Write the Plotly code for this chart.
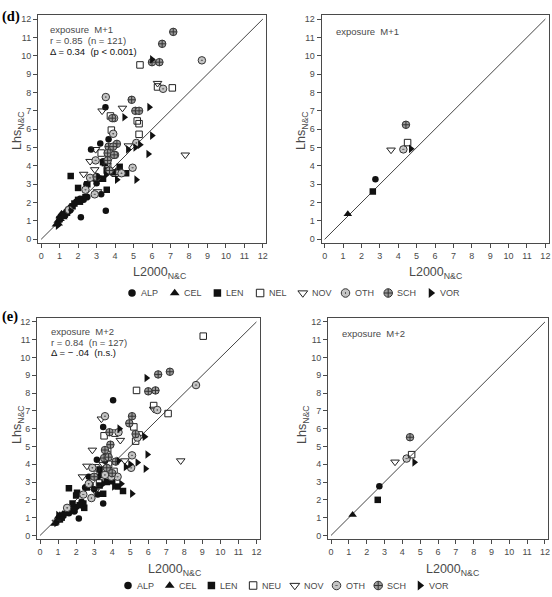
import plotly.graph_objects as go

W, H = 552, 597

# ---------------- data ----------------
cats_d = ["ALP", "CEL", "LEN", "NEL", "NOV", "OTH", "SCH", "VOR"]
cats_e = ["ALP", "CEL", "LEN", "NEU", "NOV", "OTH", "SCH", "VOR"]
ticks = list(range(0, 13))
diag = [0, 12]

# panel (d) left: exposure M+1, [L2000, Lhs]
d_ALP = [[3.48, 7.2], [3.65, 5.45], [3.2, 5.22], [2.7, 4.9], [3.35, 4.25], [2.45, 3.0], [2.9, 3.3],
         [3.25, 2.45], [3.5, 1.55], [2.15, 1.2], [2.1, 2.2], [2.3, 2.15], [1.9, 2.05], [1.6, 1.75],
         [2.5, 2.3], [1.3, 1.3], [3.0, 3.05]]
d_CEL = [[0.8, 0.8], [0.9, 1.0], [1.0, 1.25], [1.1, 1.4], [1.2, 1.2], [0.95, 0.85], [1.3, 1.5],
         [1.05, 1.1], [1.5, 1.55]]
d_LEN = [[1.6, 3.45], [2.0, 2.8], [2.5, 3.0], [3.35, 4.2], [3.45, 4.15], [3.55, 3.75], [3.7, 3.7],
         [4.25, 3.95], [4.6, 3.6], [3.35, 3.3], [3.55, 2.7], [2.0, 2.15], [2.2, 2.2], [2.4, 2.3],
         [1.7, 1.8], [1.5, 1.6], [1.2, 1.3], [1.0, 1.1], [1.8, 1.95], [2.1, 2.05], [1.4, 1.45],
         [3.9, 3.65], [3.1, 3.3]]
d_NEL = [[5.35, 9.5], [7.1, 8.25], [3.75, 6.72], [5.2, 6.45], [5.3, 6.3], [3.8, 5.95], [5.3, 5.72],
         [3.25, 4.7], [3.6, 4.0], [4.2, 3.7], [6.3, 8.3], [4.0, 3.6]]
d_NOV = [[3.3, 7.0], [4.4, 7.15], [6.3, 8.5], [4.72, 5.1], [2.95, 4.9], [2.65, 4.25], [2.3, 3.55],
         [2.9, 3.8], [3.05, 2.6], [7.8, 4.6], [3.55, 4.05], [3.7, 4.4]]
d_OTH = [[8.7, 9.75], [6.6, 8.2], [3.5, 7.75], [3.9, 5.75], [5.15, 5.25], [4.95, 3.9], [4.35, 3.6],
         [2.95, 4.3], [2.65, 3.35], [2.9, 2.45], [2.4, 2.7], [3.7, 4.7], [1.5, 1.6], [4.0, 4.6],
         [3.95, 6.6]]
d_SCH = [[7.15, 11.3], [6.55, 10.65], [6.4, 9.65], [6.0, 9.65], [4.9, 7.6], [5.1, 7.0], [5.3, 7.0],
         [3.85, 6.6], [4.1, 5.2], [3.65, 5.05], [3.6, 4.7], [3.9, 5.05], [3.6, 4.3], [3.95, 4.6],
         [3.0, 3.4], [3.7, 3.75]]
d_VOR = [[6.0, 9.8], [5.85, 7.2], [4.5, 6.65], [6.0, 5.65], [5.35, 5.15], [4.7, 4.9], [5.1, 5.0],
         [5.8, 4.65], [4.1, 3.25], [5.15, 3.25], [3.1, 3.4], [1.6, 1.55], [1.2, 1.35], [0.9, 0.75],
         [3.5, 3.5]]

# panel (d) right: exposure M+1, means
dR_cat = ["CEL", "LEN", "ALP", "NOV", "OTH", "NEL", "SCH", "VOR"]
dR_x = [1.26, 2.62, 2.76, 3.61, 4.28, 4.51, 4.42, 4.69]
dR_y = [1.38, 2.6, 3.27, 4.87, 4.9, 5.27, 6.24, 4.93]

# panel (e) left: exposure M+2
e_ALP = [[4.05, 7.6], [3.5, 6.1], [3.6, 4.2], [3.15, 4.25], [2.7, 3.3], [3.2, 3.3], [2.5, 2.7],
         [3.0, 2.6], [3.2, 2.3], [3.5, 1.8], [2.15, 0.95], [1.9, 1.35], [2.0, 1.6], [2.3, 1.9],
         [1.6, 1.25], [1.3, 1.1], [2.8, 2.85]]
e_CEL = [[0.85, 0.7], [0.95, 0.85], [1.0, 1.05], [1.1, 1.15], [1.25, 1.2], [1.4, 1.3], [1.05, 0.95],
         [1.5, 1.4], [0.8, 0.65]]
e_LEN = [[1.6, 2.65], [2.05, 2.4], [2.0, 2.25], [1.8, 1.8], [2.45, 1.55], [2.4, 1.8], [3.3, 2.8],
         [3.5, 2.35], [4.0, 3.05], [4.3, 2.75], [4.6, 2.5], [3.4, 3.4], [1.7, 1.5], [1.5, 1.3],
         [1.2, 1.0], [1.9, 1.45], [2.2, 1.7], [3.7, 3.0], [1.1, 0.9], [2.6, 2.7], [3.3, 3.7]]
e_NEU = [[9.05, 11.2], [5.35, 8.15], [6.3, 7.3], [7.1, 6.85], [5.2, 6.1], [4.15, 5.75], [3.55, 5.6],
         [5.3, 5.3], [5.5, 5.65], [3.75, 4.75], [3.7, 4.55], [4.1, 3.6], [3.3, 2.95], [3.8, 4.0],
         [3.1, 3.8]]
e_NOV = [[3.4, 6.55], [6.3, 7.1], [4.45, 5.35], [2.9, 4.8], [2.6, 3.9], [2.35, 3.3], [3.05, 2.5],
         [7.8, 4.2], [4.7, 4.2], [3.5, 4.0], [0.9, 0.75]]
e_OTH = [[8.65, 8.45], [6.5, 7.05], [3.6, 6.7], [4.35, 5.8], [5.1, 4.5], [5.05, 3.8], [4.3, 3.3],
         [2.9, 3.8], [2.7, 2.9], [2.85, 2.1], [2.4, 2.3], [3.95, 3.3], [3.6, 3.4], [1.5, 1.55],
         [5.4, 5.5]]
e_SCH = [[7.2, 9.2], [6.55, 9.05], [6.4, 8.15], [6.0, 8.1], [5.1, 6.7], [4.95, 6.3], [5.3, 5.7],
         [3.85, 5.8], [3.6, 4.8], [3.9, 5.1], [3.55, 4.35], [3.8, 4.4], [3.7, 3.8], [3.0, 3.3],
         [4.0, 3.5], [4.2, 4.15]]
e_VOR = [[5.9, 8.85], [4.4, 6.0], [5.8, 5.55], [5.95, 4.55], [5.4, 4.1], [5.0, 4.0], [5.85, 3.75],
         [4.75, 3.85], [4.35, 4.2], [5.1, 2.35], [4.1, 2.75], [3.5, 2.9], [1.0, 1.15], [0.9, 0.7],
         [4.5, 2.9]]

# panel (e) right: exposure M+2, means
eR_cat = ["CEL", "LEN", "ALP", "NOV", "OTH", "NEU", "SCH", "VOR"]
eR_x = [1.21, 2.62, 2.71, 3.59, 4.24, 4.52, 4.43, 4.67]
eR_y = [1.16, 2.0, 2.76, 4.13, 4.32, 4.54, 5.52, 4.11]

d_text = ["exposure  M+1", "r = 0.85  (n = 121)", "Δ = 0.34  (p < 0.001)"]
e_text = ["exposure  M+2", "r = 0.84  (n = 127)", "Δ = − .04  (n.s.)"]
dR_text = ["exposure  M+1"]
eR_text = ["exposure  M+2"]

# ---------------- styles ----------------
FONT = "Liberation Sans, Arial, sans-serif"
GRAY = "#4a4a4a"
STY = {
    "ALP": dict(symbol="circle", size=6.5, color="#111111", line=dict(width=0)),
    "CEL": dict(symbol="triangle-up", size=7.5, color="#111111", line=dict(width=0)),
    "LEN": dict(symbol="square", size=6.5, color="#111111", line=dict(width=0)),
    "NEL": dict(symbol="square-open", size=6.5, color="#222222", line=dict(width=1)),
    "NOV": dict(symbol="triangle-down-open", size=7.5, color="#222222", line=dict(width=1)),
    "OTH": dict(symbol="circle-dot", size=7.5, color="#c4c4c4", line=dict(color="#333333", width=1)),
    "SCH": dict(symbol="circle-cross", size=7.5, color="#9c9c9c", line=dict(color="#333333", width=1)),
    "VOR": dict(symbol="triangle-right", size=7.5, color="#111111", line=dict(width=0)),
}
STY["NEU"] = STY["NEL"]


def px_dom_x(a, b):
    return [a / W, b / W]


def px_dom_y(top, bottom):
    return [1 - bottom / H, 1 - top / H]


# frames of the four panels in pixels (left, right, top, bottom)
frames = {
    1: (38, 266, 15, 243),
    2: (321.5, 548.5, 15, 243),
    3: (37, 259.5, 318, 539),
    4: (328, 548, 318, 539),
}

fig = go.Figure()

layout = dict(
    width=W, height=H, margin=dict(l=0, r=0, t=0, b=0, autoexpand=False),
    paper_bgcolor="white", plot_bgcolor="rgba(0,0,0,0)", showlegend=False,
    font=dict(family=FONT, size=9, color=GRAY),
)

for i, (l, r, t, b) in frames.items():
    sx = "" if i == 1 else str(i)
    layout["xaxis" + sx] = dict(
        domain=px_dom_x(l, r), range=[-0.17, 12.17], anchor="y" + sx, automargin=False,
        tickvals=ticks, ticks="outside", ticklen=4, tickcolor=GRAY, tickwidth=1,
        showline=True, mirror=True, linecolor=GRAY, linewidth=1,
        showgrid=False, zeroline=False, tickfont=dict(size=9, color=GRAY, family=FONT),
    )
    layout["yaxis" + sx] = dict(
        domain=px_dom_y(t, b), range=[-0.2, 12.22], anchor="x" + sx, automargin=False,
        tickvals=ticks, ticks="outside", ticklen=4, tickcolor=GRAY, tickwidth=1,
        showline=True, mirror=True, linecolor=GRAY, linewidth=1,
        showgrid=False, zeroline=False, tickfont=dict(size=9, color=GRAY, family=FONT),
    )

# legend overlay axis in pixel units
layout["xaxis5"] = dict(domain=[0, 1], range=[0, W], visible=False, anchor="y5", fixedrange=True)
layout["yaxis5"] = dict(domain=[0, 1], range=[H, 0], visible=False, anchor="x5", fixedrange=True)

# diagonals
for i in range(1, 5):
    sx = "" if i == 1 else str(i)
    fig.add_trace(go.Scatter(x=diag, y=diag, mode="lines", line=dict(color="#444444", width=1),
                             xaxis="x" + sx, yaxis="y" + sx, hoverinfo="skip"))

# left panels
d_sets = [d_ALP, d_CEL, d_LEN, d_NEL, d_NOV, d_OTH, d_SCH, d_VOR]
e_sets = [e_ALP, e_CEL, e_LEN, e_NEU, e_NOV, e_OTH, e_SCH, e_VOR]
for cat, pts in zip(cats_d, d_sets):
    fig.add_trace(go.Scatter(x=[p[0] for p in pts], y=[p[1] for p in pts], mode="markers",
                             marker=STY[cat], name=cat, xaxis="x", yaxis="y"))
for cat, pts in zip(cats_e, e_sets):
    fig.add_trace(go.Scatter(x=[p[0] for p in pts], y=[p[1] for p in pts], mode="markers",
                             marker=STY[cat], name=cat, xaxis="x3", yaxis="y3"))
# right panels
for c, x, y in zip(dR_cat, dR_x, dR_y):
    fig.add_trace(go.Scatter(x=[x], y=[y], mode="markers", marker=STY[c], name=c,
                             xaxis="x2", yaxis="y2"))
for c, x, y in zip(eR_cat, eR_x, eR_y):
    fig.add_trace(go.Scatter(x=[x], y=[y], mode="markers", marker=STY[c], name=c,
                             xaxis="x4", yaxis="y4"))

ann = []


def add_text(x, y, text, size=9.5, color=GRAY, xanchor="left", angle=0, family=FONT):
    ann.append(dict(x=x / W, y=1 - y / H, xref="paper", yref="paper", text=text, showarrow=False,
                    xanchor=xanchor, yanchor="middle", textangle=angle, borderpad=0,
                    font=dict(size=size, color=color, family=family)))


# in-panel texts
for k, (s, yy) in enumerate(zip(d_text, [29.5, 40.5, 51.5])):
    add_text(48.5, yy, s, color="#111111" if k == 2 else GRAY)
for k, (s, yy) in enumerate(zip(e_text, [331.5, 342.3, 352.5])):
    add_text(49.5, yy, s, color="#111111" if k == 2 else GRAY)
add_text(334.5, 31.5, dR_text[0])
add_text(340.5, 333.5, eR_text[0])

# panel labels
add_text(1, 16, "<b>(d)</b>", size=14.5, color="#000000", family="Liberation Serif, Times New Roman, serif")
add_text(1, 316, "<b>(e)</b>", size=14.5, color="#000000", family="Liberation Serif, Times New Roman, serif")

# axis titles
xt = "L2000<sub>N&C</sub>"
yt = "Lhs<sub>N&C</sub>"
add_text(159, 273, xt, size=12.5, xanchor="center")
add_text(435.5, 273, xt, size=12.5, xanchor="center")
add_text(174, 570, xt, size=12.5, xanchor="center")
add_text(452.5, 570, xt, size=12.5, xanchor="center")
add_text(18, 131, yt, size=12.5, xanchor="center", angle=-90)
add_text(302, 131, yt, size=12.5, xanchor="center", angle=-90)
add_text(18, 425, yt, size=12.5, xanchor="center", angle=-90)
add_text(303, 425, yt, size=12.5, xanchor="center", angle=-90)

# legends (markers on pixel overlay axis, text as annotations)
for row_cats, x0, step, yy in [(cats_d, 132, 42.7, 293), (cats_e, 128, 41.7, 585.5)]:
    lx = [x0 + k * step for k in range(len(row_cats))]
    for c, xx in zip(row_cats, lx):
        m = dict(STY[c])
        m["size"] = m["size"] + 1
        fig.add_trace(go.Scatter(x=[xx], y=[yy], mode="markers", marker=m, xaxis="x5", yaxis="y5",
                                 hoverinfo="skip"))
        add_text(xx + 8, yy, c, size=9, color=GRAY)

layout["annotations"] = ann
fig.update_layout(**layout)
fig.write_html("out.html", config={"displayModeBar": False},
               post_script="document.body.style.margin='0';document.body.style.padding='0';")
